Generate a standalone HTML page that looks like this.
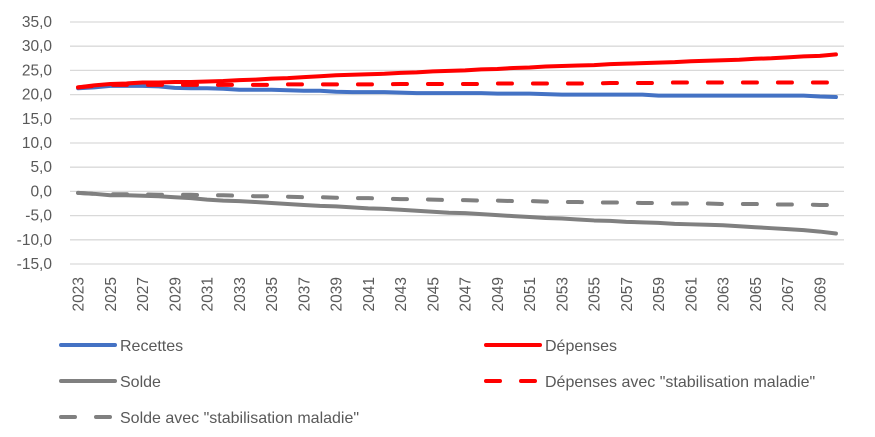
<!DOCTYPE html>
<html><head><meta charset="utf-8"><style>
body{margin:0;background:#fff;}
svg{display:block;font-family:"Liberation Sans",sans-serif;}
</style></head><body>
<svg id="c" width="875" height="437"></svg>
<script>
const years=[];for(let y=2023;y<=2070;y++)years.push(y);
const yTicks=[35,30,25,20,15,10,5,0,-5,-10,-15];
const recettes=[21.3,21.5,21.8,21.8,21.8,21.7,21.4,21.3,21.3,21.2,21.0,21.0,21.0,20.9,20.8,20.8,20.6,20.5,20.5,20.5,20.4,20.3,20.3,20.3,20.3,20.3,20.2,20.2,20.2,20.1,20.0,20.0,20.0,20.0,20.0,20.0,19.8,19.8,19.8,19.8,19.8,19.8,19.8,19.8,19.8,19.8,19.6,19.5];
const depenses=[21.5,21.9,22.2,22.3,22.5,22.5,22.6,22.6,22.7,22.8,23.0,23.1,23.3,23.4,23.6,23.8,24.0,24.1,24.2,24.3,24.5,24.6,24.8,24.9,25.0,25.2,25.3,25.5,25.6,25.8,25.9,26.0,26.1,26.3,26.4,26.5,26.6,26.7,26.9,27.0,27.1,27.2,27.4,27.5,27.7,27.9,28.0,28.3];
const solde=[-0.3,-0.5,-0.8,-0.8,-0.9,-1.0,-1.2,-1.4,-1.7,-1.9,-2.0,-2.2,-2.4,-2.6,-2.8,-3.0,-3.1,-3.3,-3.5,-3.6,-3.8,-4.0,-4.2,-4.4,-4.5,-4.7,-4.9,-5.1,-5.3,-5.5,-5.6,-5.8,-6.0,-6.1,-6.3,-6.4,-6.5,-6.7,-6.8,-6.9,-7.0,-7.2,-7.4,-7.6,-7.8,-8.0,-8.3,-8.7];
const depStab=[21.5,21.8,22.0,22.0,22.0,22.0,22.0,22.0,22.0,22.0,22.0,22.0,22.0,22.1,22.1,22.1,22.1,22.1,22.1,22.1,22.2,22.2,22.2,22.2,22.2,22.2,22.3,22.3,22.3,22.3,22.3,22.3,22.3,22.4,22.4,22.4,22.4,22.5,22.5,22.5,22.5,22.5,22.5,22.5,22.5,22.5,22.5,22.5];
const soldeStab=[-0.3,-0.5,-0.6,-0.6,-0.6,-0.7,-0.7,-0.7,-0.8,-0.8,-0.9,-1.0,-1.0,-1.1,-1.2,-1.2,-1.3,-1.4,-1.4,-1.5,-1.6,-1.6,-1.7,-1.8,-1.8,-1.9,-1.9,-2.0,-2.0,-2.1,-2.2,-2.2,-2.3,-2.3,-2.3,-2.4,-2.4,-2.5,-2.5,-2.5,-2.6,-2.6,-2.6,-2.7,-2.7,-2.7,-2.8,-2.8];

const svg=document.getElementById('c');const NS='http://www.w3.org/2000/svg';
const X0=70,X1=844,Y0=22,Y1=264,ymax=35,ymin=-15;
const bw=(X1-X0)/years.length;
const xs=i=>X0+bw*(i+0.5);
const ys=v=>Y0+(ymax-v)/(ymax-ymin)*(Y1-Y0);
function el(t,a){const e=document.createElementNS(NS,t);for(const k in a)e.setAttribute(k,a[k]);svg.appendChild(e);return e;}
yTicks.forEach(t=>{
 const g=el('line',{x1:X0,x2:X1,y1:ys(t),y2:ys(t),stroke:'#d9d9d9','stroke-width':1.3});
 
 
 const l=el('text',{x:52,y:ys(t)+5,'text-anchor':'end','font-size':15.5,fill:'#595959'});
 l.textContent=t.toFixed(1).replace('.',',');
 
 
});
years.forEach((y,i)=>{if(i%2)return;
 const x=xs(i)+5.5,yy=277;
 const l=el('text',{x:x,y:yy,'text-anchor':'end','font-size':15.5,fill:'#595959',transform:`rotate(-90 ${x} ${yy})`});
 l.textContent=y;
 
 
});
const series=[
 {d:recettes,c:'#4472c4',dash:null,n:'recettes-line'},
 {d:depenses,c:'#ff0000',dash:null,n:'depenses-line'},
 {d:solde,c:'#808080',dash:null,n:'solde-line'},
 {d:depStab,c:'#ff0000',dash:'14 21',n:'depenses-stab-line'},
 {d:soldeStab,c:'#808080',dash:'14 21',n:'solde-stab-line'}];
series.forEach(s=>{
 const p=el('polyline',{points:s.d.map((v,i)=>xs(i)+','+ys(v)).join(' '),fill:'none',stroke:s.c,'stroke-width':4,'stroke-linecap':'round','stroke-linejoin':'round'});
 if(s.dash)p.setAttribute('stroke-dasharray',s.dash);
 
 
});
const leg=[
 {x:59,y:345,c:'#4472c4',dash:null,t:'Recettes'},
 {x:484,y:345,c:'#ff0000',dash:null,t:'Dépenses'},
 {x:59,y:381,c:'#808080',dash:null,t:'Solde'},
 {x:484,y:381,c:'#ff0000',dash:'14 21',t:'Dépenses avec "stabilisation maladie"'},
 {x:59,y:417,c:'#808080',dash:'14 21',t:'Solde avec "stabilisation maladie"'}];
leg.forEach(L=>{
 const l=el('line',{x1:L.x+2,x2:L.x+56,y1:L.y,y2:L.y,stroke:L.c,'stroke-width':4,'stroke-linecap':'round'});
 if(L.dash)l.setAttribute('stroke-dasharray',L.dash);
 
 
 const t=el('text',{x:L.x+61,y:L.y+6,'font-size':16,fill:'#595959'});
 t.textContent=L.t;
 
 
});
</script>
</body></html>
